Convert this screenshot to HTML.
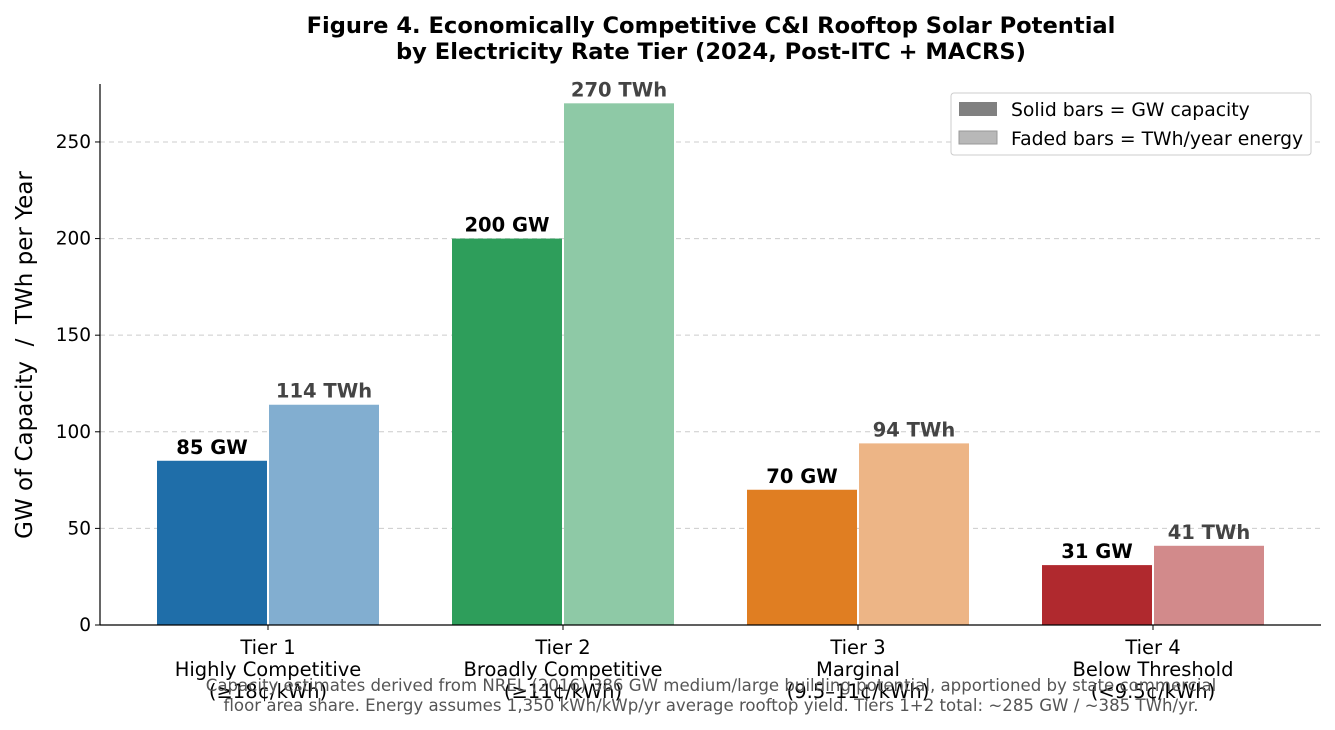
<!DOCTYPE html>
<html><head><meta charset="utf-8"><style>
html,body{margin:0;padding:0;background:#fff;}
svg{display:block;font-family:"DejaVu Sans","Liberation Sans",sans-serif;}
</style></head><body>
<svg id="chart" width="1335" height="730" viewBox="0 0 1335 730">
<text x="711" y="33" text-anchor="middle" font-size="22.6" font-weight="bold">Figure 4. Economically Competitive C&amp;I Rooftop Solar Potential</text>
<text x="711" y="59" text-anchor="middle" font-size="22.6" font-weight="bold">by Electricity Rate Tier (2024, Post-ITC + MACRS)</text>
<g id="grid"></g>
<g id="bars"></g>
<g id="axes"></g>
<text transform="translate(32,355) rotate(-90)" text-anchor="middle" font-size="23" style="white-space:pre">GW of Capacity  /  TWh per Year</text>
<g>
<rect x="951" y="93" width="360" height="62" rx="3" fill="#fff" stroke="#ccc"/>
<rect x="959" y="102" width="38" height="14" fill="#808080"/>
<text x="1011" y="116" font-size="18.8">Solid bars = GW capacity</text>
<rect x="959" y="131" width="38" height="13" fill="#b8b8b8" stroke="#999"/>
<text x="1011" y="145" font-size="18.8">Faded bars = TWh/year energy</text>
</g>
<text x="711" y="691" text-anchor="middle" font-size="16.6" fill="#555">Capacity estimates derived from NREL (2016) 386 GW medium/large building potential, apportioned by state commercial</text>
<text x="711" y="711" text-anchor="middle" font-size="16.6" fill="#555">floor area share. Energy assumes 1,350 kWh/kWp/yr average rooftop yield. Tiers 1+2 total: ~285 GW / ~385 TWh/yr.</text>
</svg>
<script>
const tiers = ["Tier 1","Tier 2","Tier 3","Tier 4"];
const tierNames = ["Highly Competitive","Broadly Competitive","Marginal","Below Threshold"];
const tierRates = ["(≥18¢/kWh)","(≥11¢/kWh)","(9.5–11¢/kWh)","(<9.5¢/kWh)"];
const gwValues = [85,200,70,31];
const twhValues = [114,270,94,41];
const yTicks = [0,50,100,150,200,250];
const solidColors = ["#1f6ea9","#2e9e5b","#e07e22","#b0292e"];
const fadedColors = ["#82aed0","#8ec9a6","#edb586","#d28a8b"];

const NS="http://www.w3.org/2000/svg";
const pL=100,pR=1321,pT=84,pB=625,yMax=280;
const sy=v=>pB-v*(pB-pT)/yMax;
const sx=i=>268+i*295;
const bw=110;
function mk(tag,attrs,parent,txt){const e=document.createElementNS(NS,tag);for(const k in attrs)e.setAttribute(k,attrs[k]);if(txt!==undefined)e.textContent=txt;parent.appendChild(e);return e;}
const grid=document.getElementById('grid'),bars=document.getElementById('bars'),axes=document.getElementById('axes');
yTicks.forEach(t=>{
  if(t>0){const g=mk('line',{x1:pL,x2:pR,y1:sy(t),y2:sy(t),stroke:'#ccc','stroke-dasharray':'5,4','stroke-width':1},grid);
  
  }
  const tk=mk('line',{x1:pL-5,x2:pL,y1:sy(t),y2:sy(t),stroke:'#000'},axes);
  
  
  const tl=mk('text',{x:pL-9,y:sy(t)+6,'text-anchor':'end','font-size':18.5},axes,String(t));
  
  
});
tiers.forEach((t,i)=>{
  const cx=sx(i);
  const b1=mk('rect',{x:cx-bw-1,y:sy(gwValues[i]),width:bw,height:pB-sy(gwValues[i]),fill:solidColors[i]},bars);
  
  
  const b2=mk('rect',{x:cx+1,y:sy(twhValues[i]),width:bw,height:pB-sy(twhValues[i]),fill:fadedColors[i]},bars);
  
  
  const l1=mk('text',{x:cx-bw/2-1,y:sy(gwValues[i])-7,'text-anchor':'middle','font-size':19.5,'font-weight':'bold'},bars,gwValues[i]+' GW');
  
  
  const l2=mk('text',{x:cx+bw/2+1,y:sy(twhValues[i])-7,'text-anchor':'middle','font-size':19.5,'font-weight':'bold',fill:'#444'},bars,twhValues[i]+' TWh');
  
  
  const tk=mk('line',{x1:cx,x2:cx,y1:pB,y2:pB+5,stroke:'#000'},axes);
  
  
  [tiers[i],tierNames[i],tierRates[i]].forEach((s,j)=>{
    const tl=mk('text',{x:cx,y:654+j*22,'text-anchor':'middle','font-size':19.5},axes,s);
    
    
  });
});
const ya=mk('line',{x1:pL,x2:pL,y1:pT,y2:pB,stroke:'#000','stroke-width':1.2},axes);


const xa=mk('line',{x1:pL,x2:pR,y1:pB,y2:pB,stroke:'#000','stroke-width':1.2},axes);


</script>
</body></html>
